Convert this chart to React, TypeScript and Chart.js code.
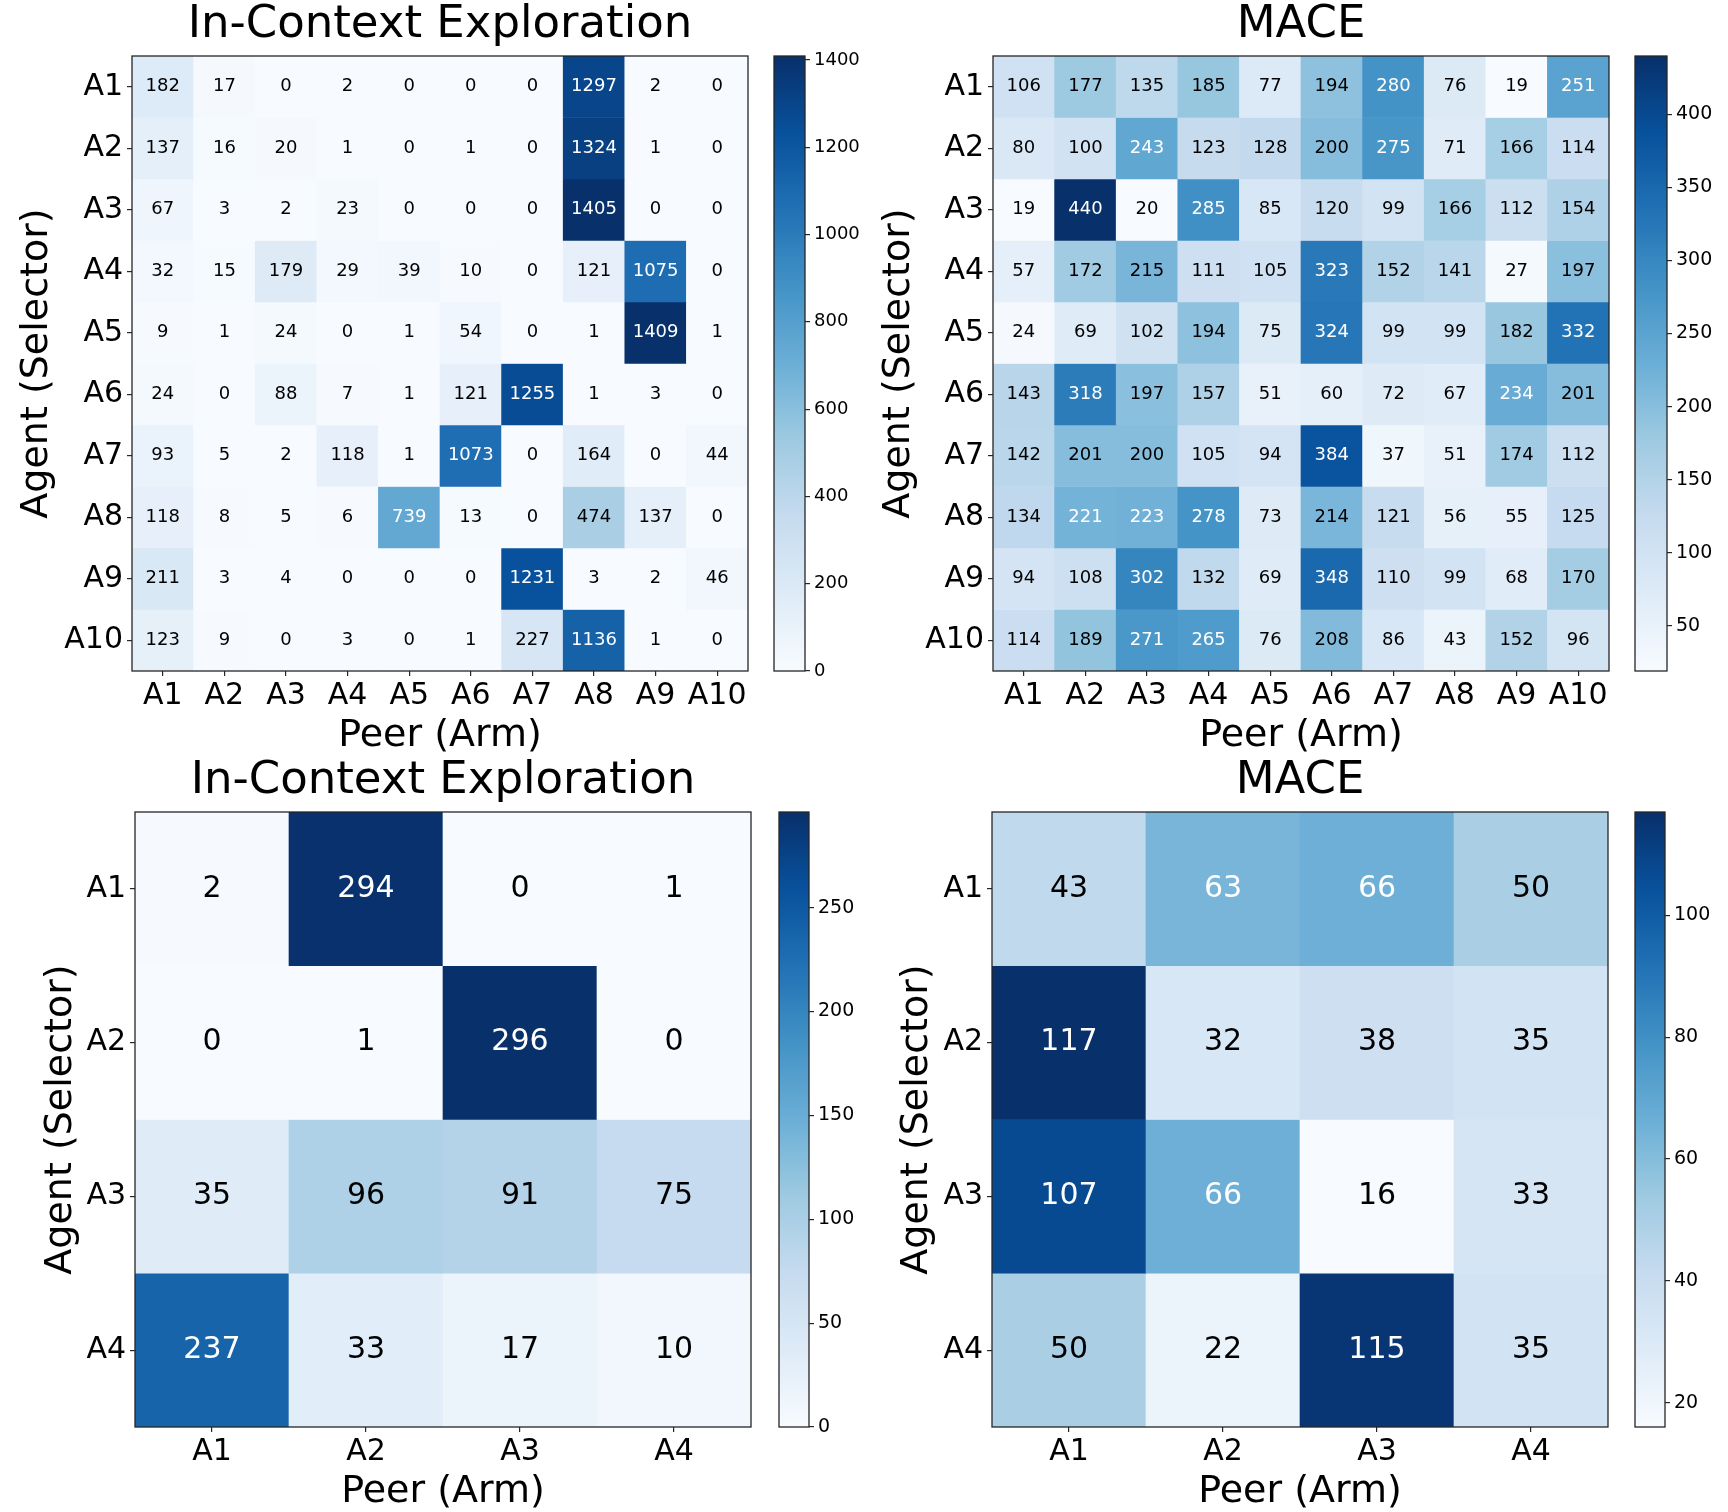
import React, { useEffect, useRef } from "react";
import { Chart, registerables } from "chart.js";

Chart.register(...registerables);

const FONT = "'DejaVu Sans', 'Liberation Sans', sans-serif";

// Agent / arm names
const armsTen = ["A1", "A2", "A3", "A4", "A5", "A6", "A7", "A8", "A9", "A10"];
const armsFour = ["A1", "A2", "A3", "A4"];

// Selection counts, rows = selecting agent, columns = chosen peer
const iceTenCounts = [
  [182, 17, 0, 2, 0, 0, 0, 1297, 2, 0],
  [137, 16, 20, 1, 0, 1, 0, 1324, 1, 0],
  [67, 3, 2, 23, 0, 0, 0, 1405, 0, 0],
  [32, 15, 179, 29, 39, 10, 0, 121, 1075, 0],
  [9, 1, 24, 0, 1, 54, 0, 1, 1409, 1],
  [24, 0, 88, 7, 1, 121, 1255, 1, 3, 0],
  [93, 5, 2, 118, 1, 1073, 0, 164, 0, 44],
  [118, 8, 5, 6, 739, 13, 0, 474, 137, 0],
  [211, 3, 4, 0, 0, 0, 1231, 3, 2, 46],
  [123, 9, 0, 3, 0, 1, 227, 1136, 1, 0],
];

const maceTenCounts = [
  [106, 177, 135, 185, 77, 194, 280, 76, 19, 251],
  [80, 100, 243, 123, 128, 200, 275, 71, 166, 114],
  [19, 440, 20, 285, 85, 120, 99, 166, 112, 154],
  [57, 172, 215, 111, 105, 323, 152, 141, 27, 197],
  [24, 69, 102, 194, 75, 324, 99, 99, 182, 332],
  [143, 318, 197, 157, 51, 60, 72, 67, 234, 201],
  [142, 201, 200, 105, 94, 384, 37, 51, 174, 112],
  [134, 221, 223, 278, 73, 214, 121, 56, 55, 125],
  [94, 108, 302, 132, 69, 348, 110, 99, 68, 170],
  [114, 189, 271, 265, 76, 208, 86, 43, 152, 96],
];

const iceFourCounts = [
  [2, 294, 0, 1],
  [0, 1, 296, 0],
  [35, 96, 91, 75],
  [237, 33, 17, 10],
];

const maceFourCounts = [
  [43, 63, 66, 50],
  [117, 32, 38, 35],
  [107, 66, 16, 33],
  [50, 22, 115, 35],
];

// Colorbar tick values
const iceTenTicks = [0, 200, 400, 600, 800, 1000, 1200, 1400];
const maceTenTicks = [50, 100, 150, 200, 250, 300, 350, 400];
const iceFourTicks = [0, 50, 100, 150, 200, 250];
const maceFourTicks = [20, 40, 60, 80, 100];

// "Blues" sequential colormap anchors
const BLUES = [
  [247, 251, 255],
  [222, 235, 247],
  [198, 219, 239],
  [158, 202, 225],
  [107, 174, 214],
  [66, 146, 198],
  [33, 113, 181],
  [8, 81, 156],
  [8, 48, 107],
];

function blues(t: number): string {
  const u = Math.min(1, Math.max(0, t)) * (BLUES.length - 1);
  const i = Math.min(BLUES.length - 2, Math.floor(u));
  const f = u - i;
  const a = BLUES[i];
  const b = BLUES[i + 1];
  const c = a.map((v, k) => Math.round(v + (b[k] - v) * f));
  return `rgb(${c[0]},${c[1]},${c[2]})`;
}

function colorFor(v: number, vmin: number, vmax: number): string {
  const n = (v - vmin) / (vmax - vmin);
  let idx = Math.floor(n * 256);
  if (idx > 255) idx = 255;
  if (idx < 0) idx = 0;
  return blues(idx / 255);
}

const AXIS_W = 132; // y-axis block width (labels + title)
const TITLE_H = 56; // title block height
const AREA = 616; // plot square size
const HEAT_W = AXIS_W + AREA + 22;
const HEAT_H = 755;
const CB_W = 100;
const CB_H = 690;
const CB_PAD_L = 14;

type PanelProps = {
  title: string;
  labels: string[];
  counts: number[][];
  ticks: number[];
  annSize: number;
  cbFont: number;
  areaLeft: number;
  areaTop: number;
  cbLeft: number;
  cbWidth: number;
  yTitlePad: number;
};

function Panel(p: PanelProps) {
  const heatRef = useRef<HTMLCanvasElement>(null);
  const barRef = useRef<HTMLCanvasElement>(null);

  useEffect(() => {
    const flat = p.counts.flat();
    const vmin = Math.min(...flat);
    const vmax = Math.max(...flat);
    const n = p.labels.length;

    const frame = {
      id: "frame",
      afterDraw(chart: any) {
        const a = chart.chartArea;
        const ctx = chart.ctx;
        ctx.save();
        ctx.strokeStyle = "#262626";
        ctx.lineWidth = 1.3;
        ctx.strokeRect(a.left, a.top, a.right - a.left, a.bottom - a.top);
        ctx.restore();
      },
    };

    const annotate = {
      id: "annotate",
      afterDatasetsDraw(chart: any) {
        const ctx = chart.ctx;
        ctx.save();
        ctx.font = `${p.annSize}px ${FONT}`;
        ctx.textAlign = "center";
        ctx.textBaseline = "middle";
        p.counts.forEach((row, r) => {
          const meta = chart.getDatasetMeta(r);
          row.forEach((v, c) => {
            const el: any = meta.data[c];
            ctx.fillStyle = v > vmax / 2 ? "#ffffff" : "#000000";
            ctx.fillText(String(v), el.x, (el.y + el.base) / 2);
          });
        });
        ctx.restore();
      },
    };

    const tickGrid = {
      display: true,
      drawOnChartArea: false,
      drawTicks: true,
      tickLength: 5,
      offset: false,
      color: "#262626",
      lineWidth: 1.2,
    };

    const heat = new Chart(heatRef.current as HTMLCanvasElement, {
      type: "bar",
      data: {
        labels: p.labels,
        datasets: p.counts.map((row, r) => ({
          label: p.labels[r],
          data: row.map(() => [r, r + 1]),
          backgroundColor: row.map((v) => colorFor(v, vmin, vmax)),
          borderWidth: 0,
          grouped: false,
          categoryPercentage: 1,
          barPercentage: 1,
        })),
      } as any,
      options: {
        responsive: false,
        animation: false,
        events: [],
        layout: { padding: { left: 0, top: 0, right: HEAT_W - AXIS_W - AREA, bottom: 0 } },
        plugins: {
          legend: { display: false },
          tooltip: { enabled: false },
          title: {
            display: true,
            text: p.title,
            fullSize: false,
            color: "#000",
            font: { family: FONT, size: 45, lineHeight: 1, weight: "normal" },
            padding: { top: 3, bottom: 8 },
          },
        },
        scales: {
          x: {
            type: "category",
            grid: tickGrid,
            border: { display: false },
            ticks: {
              color: "#000",
              font: { family: FONT, size: 30, lineHeight: 1 },
              padding: 5,
              maxRotation: 0,
              autoSkip: false,
            },
            title: {
              display: true,
              text: "Peer (Arm)",
              color: "#000",
              font: { family: FONT, size: 38, lineHeight: 1 },
              padding: { top: 0, bottom: 0 },
            },
            afterFit: (s: any) => {
              s.height = HEAT_H - TITLE_H - 615;
            },
          },
          y: {
            type: "linear",
            min: 0,
            max: n,
            reverse: true,
            grid: tickGrid,
            border: { display: false },
            afterBuildTicks: (s: any) => {
              s.ticks = p.labels.map((_, i) => ({ value: i + 0.5 }));
            },
            ticks: {
              color: "#000",
              font: { family: FONT, size: 30, lineHeight: 1 },
              padding: 4,
              callback: (_v: any, i: number) => p.labels[i],
            },
            title: {
              display: true,
              text: "Agent (Selector)",
              color: "#000",
              font: { family: FONT, size: 38, lineHeight: 1 },
              padding: { top: p.yTitlePad, bottom: 0 },
            },
            afterFit: (s: any) => {
              s.width = AXIS_W;
            },
          },
        },
      } as any,
      plugins: [annotate, frame],
    });

    const bar = new Chart(barRef.current as HTMLCanvasElement, {
      type: "bar",
      data: {
        labels: [""],
        datasets: [
          {
            data: [[vmin, vmax]],
            borderWidth: 0,
            categoryPercentage: 1,
            barPercentage: 1,
            backgroundColor: (c: any) => {
              const ch = c.chart;
              if (!ch.chartArea) return "rgba(0,0,0,0)";
              const ys = ch.scales.y;
              const g = ch.ctx.createLinearGradient(
                0,
                ys.getPixelForValue(vmin),
                0,
                ys.getPixelForValue(vmax)
              );
              for (let k = 0; k <= 64; k++) g.addColorStop(k / 64, blues(k / 64));
              return g;
            },
          },
        ],
      } as any,
      options: {
        responsive: false,
        animation: false,
        events: [],
        layout: {
          padding: { left: CB_PAD_L, top: TITLE_H, right: 0, bottom: CB_H - TITLE_H - 615 },
        },
        plugins: { legend: { display: false }, tooltip: { enabled: false }, title: { display: false } },
        scales: {
          x: { display: false },
          y: {
            position: "right",
            min: vmin,
            max: vmax,
            grid: { ...tickGrid },
            border: { display: false },
            afterBuildTicks: (s: any) => {
              s.ticks = p.ticks.map((v) => ({ value: v }));
            },
            ticks: {
              color: "#000",
              font: { family: FONT, size: p.cbFont, lineHeight: 1 },
              padding: 4,
              callback: (v: any) => String(v),
            },
            afterFit: (s: any) => {
              s.width = CB_W - CB_PAD_L - p.cbWidth;
            },
          },
        },
      } as any,
      plugins: [frame],
    });

    return () => {
      heat.destroy();
      bar.destroy();
    };
  }, []);

  return (
    <>
      <canvas
        ref={heatRef}
        width={HEAT_W}
        height={HEAT_H}
        style={{
          position: "absolute",
          left: p.areaLeft - AXIS_W,
          top: p.areaTop - TITLE_H,
          width: HEAT_W,
          height: HEAT_H,
        }}
      />
      <canvas
        ref={barRef}
        width={CB_W}
        height={CB_H}
        style={{
          position: "absolute",
          left: p.cbLeft - CB_PAD_L,
          top: p.areaTop - TITLE_H,
          width: CB_W,
          height: CB_H,
        }}
      />
    </>
  );
}

export default function App() {
  return (
    <div
      style={{
        position: "absolute",
        left: 0,
        top: 0,
        width: 1728,
        height: 1512,
        overflow: "hidden",
        background: "#ffffff",
      }}
    >
      <Panel
        title="In-Context Exploration"
        labels={armsTen}
        counts={iceTenCounts}
        ticks={iceTenTicks}
        annSize={18}
        cbFont={18}
        areaLeft={132}
        areaTop={56}
        cbLeft={774}
        cbWidth={31}
        yTitlePad={18}
      />
      <Panel
        title="MACE"
        labels={armsTen}
        counts={maceTenCounts}
        ticks={maceTenTicks}
        annSize={18}
        cbFont={19}
        areaLeft={993}
        areaTop={56}
        cbLeft={1635}
        cbWidth={32}
        yTitlePad={19}
      />
      <Panel
        title="In-Context Exploration"
        labels={armsFour}
        counts={iceFourCounts}
        ticks={iceFourTicks}
        annSize={30}
        cbFont={19}
        areaLeft={135}
        areaTop={812}
        cbLeft={779}
        cbWidth={30}
        yTitlePad={39}
      />
      <Panel
        title="MACE"
        labels={armsFour}
        counts={maceFourCounts}
        ticks={maceFourTicks}
        annSize={30}
        cbFont={19}
        areaLeft={992}
        areaTop={812}
        cbLeft={1635}
        cbWidth={30}
        yTitlePad={38}
      />
    </div>
  );
}
